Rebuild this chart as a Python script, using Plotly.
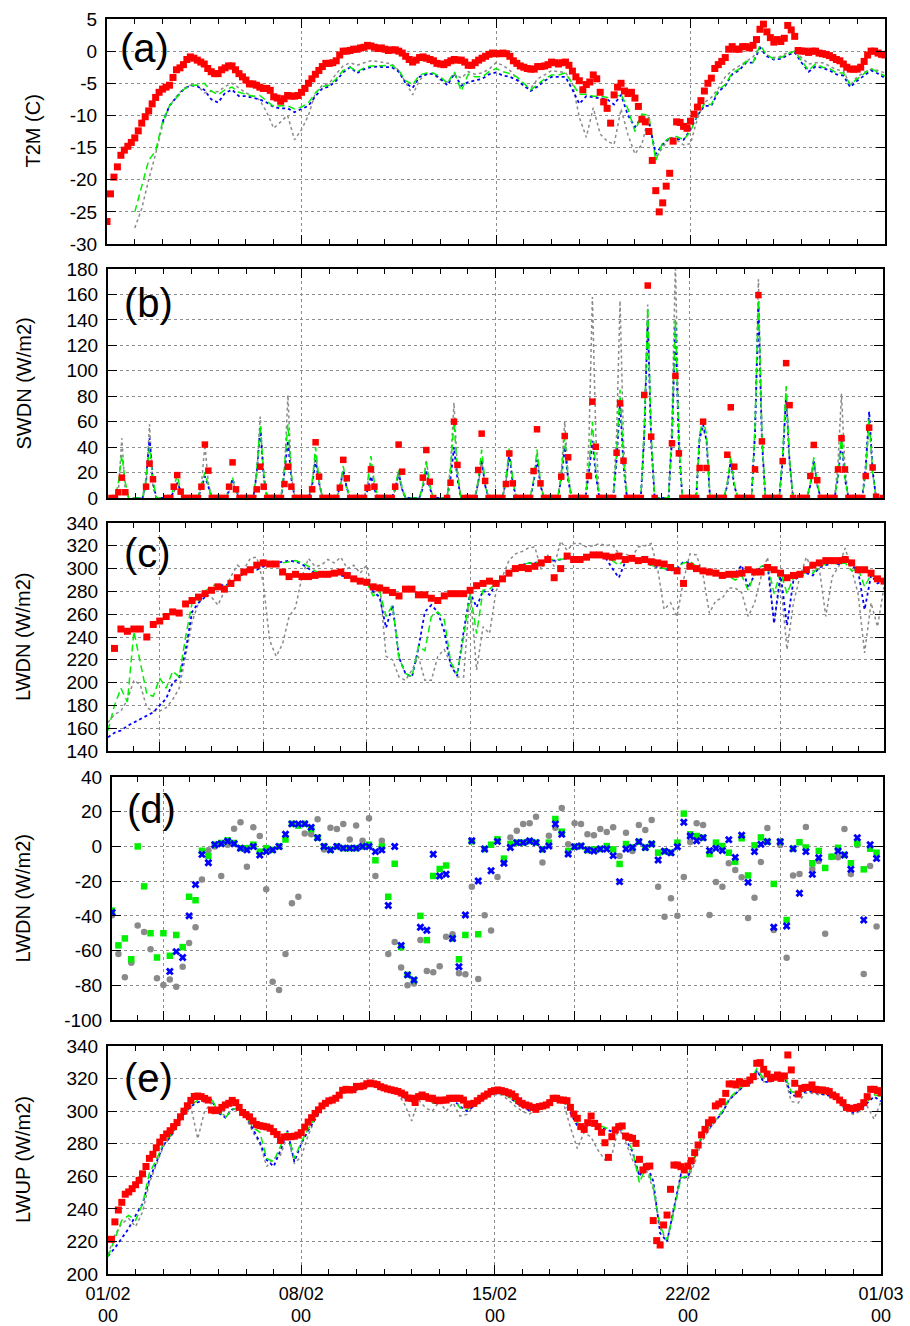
import plotly.graph_objects as go

# ======================= DATA =======================
# (a) T2M (C): observations every 3 h, model runs every 6 h (days since 01/02 00)
t2m_obs = [
    -26.5, -22.2, -19.6, -18, -16.2, -15.4, -14.8, -14.2, -13.5, -12.4,
    -11.2, -10.2, -9.3, -8.2, -7.2, -6.4, -5.9, -5.6, -5.3, -4.1,
    -2.9, -2.6, -2.1, -1.3, -0.9, -1.1, -1.4, -1.7, -2, -2.7,
    -3.2, -3.5, -3.5, -2.9, -2.6, -2.3, -2.3, -2.9, -3.5, -4,
    -4.5, -5.1, -5.1, -5.3, -5.6, -5.8, -5.8, -6.1, -7.1, -7.3,
    -7.8, -7.4, -6.9, -7, -7, -6.9, -6.4, -5.8, -5, -4.3,
    -3.6, -3, -2.4, -1.9, -1.9, -1.8, -1.5, -0.6, 0, 0,
    0.1, 0.3, 0.3, 0.5, 0.6, 0.9, 0.8, 0.6, 0.4, 0.5,
    0.3, 0.1, 0.2, 0.2, 0, -0.3, -0.8, -1.3, -1.7, -1.4,
    -1, -0.9, -1.1, -1.3, -1.5, -1.9, -2, -2.1, -1.8, -1.5,
    -1.3,
    -1.4, -1.4, -1.7, -2.2, -2.2, -1.8, -1.4, -1.1, -0.8, -0.5,
    -0.3, -0.4, -0.4, -0.3, -0.4, -0.8, -1.5, -1.9, -2.3, -2.5,
    -2.7, -2.8, -2.8, -2.4, -2.4, -2.3, -2.1, -1.7, -1.8, -2,
    -1.8, -1.7, -2.2, -3.1, -4, -4.6, -6, -5.2, -4.8, -3.7,
    -4.3, -6.4, -7.9, -8.9, -11.2, -6.8, -5.6, -5, -6.2, -6.6,
    -6.4, -7.3, -8.6, -10.6, -11, -12.5, -17, -21.7, -25, -23.6,
    -21, -19, -14, -11, -11.1, -11.7, -12, -10.9, -9.8, -8.7,
    -7.7, -6.2, -5, -4.2, -2.7, -2.1, -1.6, -1, 0.3, 0.7,
    0.3, 0.3, 0.7, 0.7, 0.5, 0.9, 1.8, 3.4, 4.2, 3,
    2.1, 1.4, 1.8, 1.5, 2, 4, 3.3, 2.3, 0.1, 0,
    0, -0.2, 0, 0, -0.3, -0.4, -0.5, -0.7, -1, -1.3,
    -1.5, -2, -2.5, -2.8, -2.8, -2.8, -2.5, -1.6, -0.6, 0,
    0, -0.3, -0.5, -0.6]
t2m_gray = [
    None, None, None, None, -27.5, -24.5, -20, -16, -11.5, -8.5,
    -7, -5.8, -5.3, -5.3, -6.5, -6.2, -6.3, -5.5, -5, -5.8,
    -6.5, -7, -7.6, -9.5, -12, -11, -10, -13.8, -12.2, -10,
    -6.5, -5.3, -5, -3.5, -2.3, -1.8, -2.2, -1.8, -1.5, -1.6,
    -1.8, -2, -3, -5, -6.8, -4.5, -3.5, -3.6, -4.5, -4.8,
    -3.5, -4.2, -3.2, -3.6, -3.4, -2.8, -1.8, -2.2, -3, -4.2,
    -5.5, -5.8, -4.3, -3.7, -3, -3.2, -3.3, -5, -10.3, -13.4,
    -8.8, -12.9, -14, -14.5, -9, -13, -16, -14.5, -10, -16.5,
    -15, -13.5, -13.8, -14.6, -14.4, -10.5, -8, -7.2, -5.8, -4,
    -3, -2.3, -1.5, -0.9, 0.7, -0.6, -1, -0.8, -0.2, -0.1,
    -1, -2, -1.8, -1.8, -2.3, -2.9, -3, -5.3, -4, -3.3,
    -2.8, -3, -3.4]
t2m_blue = [
    None, None, None, None, None, None, None, None, -11, -8.5,
    -7.2, -6, -5.3, -5.5, -6, -7.5, -8, -6.5, -6, -7,
    -7, -7.2, -7.5, -8, -8.7, -8.9, -8.9, -9.5, -9, -8.5,
    -7, -5.8, -5.5, -4.6, -3.3, -2.5, -3.4, -2.8, -2.5, -2.4,
    -2.5, -2.5, -3.2, -5, -5.7, -4, -3.6, -3.5, -4.3, -5.3,
    -3.5, -5.4, -4.8, -4.5, -4.3, -3.6, -3.3, -3.8, -4, -4.5,
    -5.3, -6.2, -5.5, -4.6, -4, -4, -4, -6, -8.2, -7,
    -7.2, -7.4, -7.5, -8.3, -6.8, -10, -11.8, -10.2, -11, -16,
    -14.5, -13.5, -13.6, -13.8, -12.2, -10, -8.5, -8.5, -6.3, -5.4,
    -3.6, -3, -1.8, -1.8, 0.5, -0.8, -1.3, -1.2, -0.6, -0.2,
    -1.8, -3.2, -2.4, -2.6, -3, -3.6, -3.8, -5.6, -4.6, -3.8,
    -3, -3.5, -4.2]
t2m_green = [
    None, None, None, None, -25, -21, -17, -15.5, -11, -8.5,
    -7.2, -6, -5.3, -5.3, -5, -6.2, -6.8, -6, -5.6, -6.4,
    -6.7, -7, -6.9, -7.8, -8.6, -8.5, -8.5, -9, -8.7, -8,
    -6.5, -5.5, -5.3, -4.3, -3, -2.5, -3.2, -2.6, -2.3, -2.3,
    -2.3, -2.2, -3, -4.6, -5.2, -3.7, -3.4, -3.4, -4, -5,
    -3.2, -6.2, -3.6, -4, -4, -3.2, -2.7, -3.2, -3.5, -4,
    -5, -6, -5.2, -4.3, -3.7, -3.7, -3.4, -5, -6.7, -6.7,
    -7, -7, -7.2, -7.2, -6.7, -9, -12.5, -9.8, -10, -17,
    -14.2, -13.5, -13.3, -13.8, -12.5, -9.8, -8.2, -8.3, -6, -5.2,
    -3.4, -2.8, -1.6, -1.8, 0.9, -0.6, -1.2, -1, -0.4, 0,
    -1.5, -3, -2, -2.5, -2.7, -3.4, -3.4, -5.2, -4.3, -3.5,
    -2.7, -3.3, -3.9]

# (b) SWDN (W/m2): observations every 3 h (8 per day)
swdn_obs = [
    None, 0, 0, 4.5, 16, 4.5, None, None,
    None, None, None, 8.9, 27, 14.7, None, None,
    None, 0, 0, 8.9, 18, 5, 0, 0,
    0, 0, 0, 8.9, 42, 21.5, 0, 0,
    0, 0, 0, 8.9, 28, 6.8, 0, 0,
    0, 0, 0, 6.8, 24.6, 8.9, 0, 0,
    0, 0, 0, 11, 24.6, 8.9, 0, 0,
    0, 0, 0, 6.8, 43.8, 16.8, 0, 0,
    0, 0, 0, 8.1, 30, 15.5, 0, 0,
    0, 0, 0, 8.1, 22.5, 8.9, 0, 0,
    0, 0, 0, 8.9, 42, 20.7, None, None,
    None, None, None, 16, 37.7, 12.8, 0, None,
    None, None, 0, 12, 60, 26, None, 0,
    0, 0, 0, 22, 50.6, 13.4, 0, 0,
    0, 0, 0, 11, 35, 11.5, 0, 0,
    0, 0, 0, 21.2, 54, 11.5, 0, 0,
    0, 0, 0, 16.8, 48.7, 32, 0, 0,
    0, 0, 0, 17.3, 75.7, 40.3, 0, 0,
    0, 0, 0, 35.6, 74.4, 29.3, 0, 0,
    0, 0, 0, 81, 167, 48.2, 0, None,
    None, None, None, 43, 96, 35.1, 0, 0,
    0, 0, 0, 23.6, 60, 23.6, 0, 0,
    0, 0, 0, 34, 71.3, 24.6, 0, 0,
    0, 0, 0, 22.5, 159.5, 44.5, 0, 0,
    0, 0, 0, 29, 106, 73, 0, None,
    0, 0, 0, 17.3, 41.7, 14, 0, 0,
    0, 0, 0, 22.5, 47, 22.5, 0, 0,
    0, 0, 0, 17.3, 55.3, 24, 1, None,
    0]
# model SWDN per day at 09, 12 and 15 h (zero at night)
sw_gray_09 = [5, 8, 4, 10, 5, 18, 20, 12, 8, 10, 6, 10, 25, 10, 12, 12, 20, 45, 50, 45, 60, 45, 10, 55, 28, 10, 28, 20]
sw_gray_12 = [47, 58, 12, 42, 14, 64, 81, 35, 20, 28, 18, 30, 75, 30, 34, 36, 60, 158, 155, 152, 185, 55, 28, 172, 85, 28, 82, 60]
sw_gray_15 = [5, 8, 5, 12, 5, 15, 18, 12, 7, 9, 6, 10, 22, 10, 12, 12, 18, 50, 45, 40, 55, 45, 10, 50, 30, 10, 25, 20]
sw_blue_09 = [None, 15, 5, 8, 6, 20, 20, 10, 8, 6, 7, 8, 15, 12, 13, 12, 15, 20, 30, 50, 45, 48, 10, 50, 30, 10, 16, 25]
sw_blue_12 = [None, 47, 12, 17, 15, 55, 45, 30, 22, 17, 20, 22, 40, 30, 35, 30, 40, 45, 75, 140, 135, 58, 30, 150, 80, 30, 45, 68]
sw_blue_15 = [None, 12, 6, 9, 6, 18, 15, 12, 8, 7, 7, 8, 15, 10, 12, 10, 14, 18, 25, 45, 40, 45, 10, 45, 28, 10, 15, 22]
sw_green_09 = [12, 15, 8, 10, 6, 22, 25, 12, 8, 12, 8, 10, 22, 14, 15, 14, 18, 25, 35, 55, 50, 50, 12, 55, 35, 12, 18, 22]
sw_green_12 = [34, 40, 18, 20, 16, 57, 58, 40, 25, 33, 22, 28, 60, 38, 40, 38, 48, 60, 85, 150, 140, 62, 33, 160, 88, 32, 50, 62]
sw_green_15 = [12, 14, 6, 10, 6, 20, 18, 14, 9, 12, 8, 10, 20, 12, 14, 12, 16, 22, 30, 50, 45, 50, 12, 50, 30, 12, 16, 20]

# (c) LWDN (W/m2): obs every 0.25 unit, model lines every 0.25 unit
lwdn_obs = [
    230, 247, 245, 247, 247, 240, 251, 254, 258, 262, 261, 269, 272, 275, 278, 281, 284, 282,
    287, 292, 297, 299, 303, 305, 304, 304, 297, 293, 295, 293, 293, 294, 295, 295, 296, 297,
    294, 291, 289, 288, 284, 283, 281, 279, 276, 282, 282, 277, 277, 274, 272, 276, 278,
    278, 278, 281, 285, 287, 289, 287, 291, 296, 300, 301, 300, 302, 305, 308, 292, 300, 311,
    308, 308, 310, 312, 312, 311, 310, 311, 308, 309, 307, 308, 306, 305, 304, 301, 298, 287,
    302, 300, 298, 297, 296, 294, 295, 295, 296, 299, 297, 297, 301, 299, 296, 292, 294, 295,
    299, 303, 305, 307, 307, 307, 308, 305, 299, 299, 296, 291, 289]
lwdn_gray = [
    165, 172, 175, 185, 202, 198, 178, 175, 175, 178, 185, 195, 223, 253, 270, 278, 275, 268,
    280, 293, 303, 299, 309, 310, 288, 237, 223, 234, 258, 266, 293, 309, 302, 303, 308, 305,
    310, 300, 303, 296, 303, 277, 287, 223, 220, 205, 202, 211, 223, 202, 202, 223, 229, 217,
    205, 205, 281, 211, 249, 243, 280, 293, 307, 313, 315, 318, 319, 299, 312, 302, 324, 316,
    322, 322, 319, 320, 322, 320, 321, 313, 313, 310, 319, 320, 322, 300, 264, 270, 258, 290,
    313, 312, 295, 261, 272, 274, 283, 283, 279, 258, 270, 293, 310, 252, 290, 229, 270, 293,
    310, 298, 300, 258, 293, 302, 318, 299, 278, 226, 270, 249, 284]
lwdn_blue = [
    152, 156, 158, 162, 165, 168, 171, 174, 180, 186, 200, 204, 228, 262, 270, 275, 283, 286,
    285, 287, 291, 296, 300, 299, 302, 303, 305, 306, 307, 306, 304, 300, 296, 294, 294, 295,
    294, 293, 291, 289, 288, 280, 275, 248, 268, 222, 208, 205, 230, 262, 268, 262, 245, 215,
    206, 245, 279, 266, 281, 277, 287, 291, 297, 301, 303, 305, 305, 306, 307, 307, 308, 309,
    309, 310, 310, 311, 311, 309, 300, 292, 306, 309, 308, 306, 303, 301, 300, 298, 300, 306,
    305, 301, 297, 296, 295, 293, 293, 296, 303, 283, 295, 302, 303, 252, 296, 250, 290, 293,
    296, 294, 301, 303, 305, 304, 306, 303, 298, 264, 294, 287, 290]
lwdn_green = [
    158, 180, 195, 183, 245, 218, 190, 188, 204, 195, 210, 205, 240, 270, 272, 280, 285, 286,
    284, 287, 293, 297, 299, 302, 303, 303, 304, 305, 306, 307, 305, 302, 298, 296, 296, 295,
    295, 293, 291, 289, 288, 276, 280, 258, 268, 222, 208, 205, 232, 228, 258, 262, 255, 218,
    208, 240, 279, 243, 281, 282, 287, 291, 297, 301, 303, 305, 305, 306, 308, 308, 308, 309,
    309, 310, 310, 311, 311, 310, 307, 303, 309, 309, 308, 306, 303, 301, 300, 299, 301, 305,
    306, 302, 298, 296, 295, 294, 293, 290, 294, 281, 296, 302, 304, 278, 297, 278, 292, 294,
    297, 296, 302, 304, 305, 304, 305, 298, 300, 284, 295, 289, 290]

# (d) LWDN model minus obs (W/m2), every 0.25 unit
dlw_gray = [
    -39.7, -62, -75.4, -67, -45.5, -49.3, -59.3, -76, -79.8, -76.6,
    -80.8, -69.3, -55.6, -46.6, -19, -2.2, 0, -17, 1, 10.2,
    13.9, -11.7, 11, 6, -24.7, -78, -82.7, -62, -32.8, -29,
    7.5, 7, 15.6, -1.7, 10.8, 10, 12.9, 4, 12, 3.3,
    16.2, -17, 3.3, -62, -55, -69.7, -80, -79, -53.9, -71.8,
    -72.5, -69, -52, -50.6, -73.1, -73.7, -23.2, -76.4, -39.7, -48.5,
    -17.6, -8.8, 5.2, 9.1, 12.9, 13.3, 17.1, -9.2, 6.2, 10.8,
    22.1, 1.2, 13.3, 12.9, 7, 6.4, 10, 8.3, 11, -5.5,
    7.9, -2.6, 12.3, 9.5, 15.2, -23.2, -40.5, -29.9, -39.9, -17.6,
    2.6, 13.3, 12.3, -39.5, -20.5, -23.2, -9.7, -13.6, -17.8, -41.2,
    -29.5, -9, 10.6, -48.2, 0.8, -64.1, -16.8, -15.9, 11.2, -13,
    -8.4, -50.3, -5.9, -6.3, 10, -15.9, 0.8, -73.5, -11.3, -46.2]
dlw_blue = [
    -38, None, None, None, None, None, None, None, None, -72,
    -60.6, -64, -40, -22, -4.6, -9.4, 1, 1.5, 3, 1.5,
    -1, -2, 0, -5, -3, -2, 0, 7, 13, 13,
    13, 11, 5, 0, -2, 0, -1, -1, -1, 0,
    0, -3, -2, -34, 0, -57, -74, -77, -46.6, -48.3,
    -4.5, -17, -16, -53, -69.3, -39.5, 3.3, -19.9, -1.5, -14,
    2.9, -9.7, -0.6, 2.2, 2.2, 3.1, 2.2, -1.7, 0.2, 12.9,
    7, -4.4, -0.2, 0.2, -2.1, -2.6, -1.5, -1.5, -5.3, -20.3,
    -1.5, -0.6, 2.7, -0.6, 1.4, -7.8, -2.8, -3.6, -0.2, 13.9,
    6, 3.3, 5, -2.4, -1.1, -2.4, 3.9, -6.3, 6.4, -20.7,
    -3, 1.2, 2.7, -46.6, 2.7, -45.8, -1.3, -27, -3, -16.1,
    -6.5, None, None, -2.6, -4.9, -13.2, 5, -42.4, 1, -6.9]
dlw_green = [
    -37, -57, -53, -65, 0, -23, -50, -64, -50, -63,
    -51, -58, -29, -31, -2.5, -5.5, 1, 2, 3.5, 2,
    -1, -1, 1, -3, -1, -2, 0, 4, 13, 12,
    13, 10, 5, 0, -2, 0, -1, -1, -1, 0,
    1, -8, 0, -29, -10, -58, -74, -77, -40, -54,
    -17, -13, -11, -53, -65, -51, 3, -50.6, -1.5, 1,
    4.1, -7, 1.4, 2.2, 2.2, 3.1, 2.2, -1.7, 2.2, 15.8,
    8.5, -2.6, -0.2, 0.2, -2.1, -1.7, -1.5, 0.2, -1.7, -10.1,
    1.4, -0.6, 2.7, -0.6, 1.4, -3.6, -2.8, -3.6, 2.2, 18.9,
    7, 6, 5, -4.4, 2.2, 0.2, -3.6, -8.8, 4.7, -16.7,
    0.6, 5.2, 2.7, -21.6, 2.7, -42.4, -1.3, 2.4, -0.6, -9.7,
    -2.6, -12.4, -5.9, -0.8, -4.9, -9.7, 1.8, -13.2, -1.3, -3.6]

# (e) LWUP (W/m2): obs every 3 h, model runs every 6 h
lwup_obs = [
    None, 221.3, 232, 239.3, 244, 249, 250.4, 252.4, 254.8, 257.5,
    261.5, 266, 271, 273.5, 277.5, 281, 283.8, 286, 288, 290.5,
    293, 296.5, 300, 303.3, 306.6, 309, 309.3, 308.9, 307.8, 306.8,
    300.7, 300.3, 300.7, 302.3, 303.8, 304.8, 306.6, 305.2, 302.3, 299.2,
    297.8, 296.5, 294, 291.8, 291.1, 290.7, 290.3, 289.5, 287.4, 285.7,
    282, 284.1, 284.3, 284.3, 284.6, 285.3, 286.8, 290.2, 293.3, 296,
    298.6, 300.8, 303.2, 304.8, 306.3, 306.8, 307.9, 309.8, 312.8, 313.4,
    313, 313.2, 315.2, 315, 315.5, 316.8, 317.3, 316.8, 316.3, 315,
    314.3, 313.6, 313.1, 312.6, 312.1, 311.1, 310, 308, 307.9, 305.3,
    308.9, 309.9, 308.9, 307.9, 307.9, 306.8, 306.4, 306.8, 306.8, 307.9,
    307.9,
    307.9, 307.9, 306.8, 303.8, 304.4, 304.8, 306.4, 307.9, 309.3, 310.5,
    312, 312.6, 313, 312.6, 312, 311.3, 310.5, 308.9, 306.4, 304.8,
    303.8, 303.2, 302.3, 301.1, 302.8, 303.2, 303.8, 305.2, 307.9, 307.9,
    306.8, 306.8, 306.4, 302.3, 298.2, 295.6, 290.5, 288.8, 292.9, 297,
    292.5, 290.5, 287, 280.6, 271.6, 284.3, 288.4, 290.5, 290.9, 284.7,
    283.9, 283.3, 280.2, 270.4, 263.9, 265.9, 266.3, 232.8, 220.5, 217.8,
    230.1, 236.2, 252, 266.9, 266.9, 265.9, 263.9, 266.3, 269.6, 274.5,
    279.2, 285.4, 288.8, 292.9, 294.6, 303.2, 304.4, 305.8, 310.9, 316.7,
    316.7, 316.1, 318.1, 317.1, 317.1, 319.1, 321.2, 329.4, 329.8, 325.7,
    322.8, 320.1, 320.8, 322.2, 320.1, 321.6, 334.5, 325.3, 317.1, 310.5,
    314, 314.6, 314.6, 316.1, 313.4, 313, 313, 312.6, 312, 309.9,
    308.9, 306.8, 305.2, 302.3, 301.7, 301.7, 302.3, 302.8, 305.2, 308.9,
    313.4, 313.4, 312.6, 311.3]
lwup_gray = [
    212, 224, 231, 234, 229, 238, 256, 267, 278, 284,
    291, 298, 303, 283, 300, 305, 300, 297, 301, 302,
    296, 287, 280, 266, 271, 273, 285, 268, 272, 285,
    295, 301, 308, 309, 312, 313, 314, 314, 316, 315.5,
    315, 313, 311, 304, 294, 307, 302, 300, 306, 300,
    305, 297, 298, 303, 306, 308.5, 310, 310, 307, 303,
    300, 298, 301, 303, 306, 306.5, 305, 290, 277, 287,
    284, 276, 270, 273, 290, 281, 270, 262, 264, 252,
    228, 220, 240, 260, 258, 268, 281, 288, 294, 299,
    307, 311, 315, 317, 325, 318, 318, 320, 321, 306,
    305, 311, 311, 310, 310, 309, 305, 300, 298, 300,
    303, 295, 306]
lwup_blue = [
    211, 216, 222, 228, 236, 243, 258, 268, 279, 284,
    291, 298, 303, 305.5, 306, 307, 299, 296, 301, 302,
    297, 289, 281, 270, 266, 276, 288, 269, 280, 288,
    295, 302, 306, 309, 312, 312, 313, 314, 316, 315.5,
    314, 313, 311, 308, 306, 310, 310, 305, 305, 306,
    307, 303, 300, 303, 306.5, 309.5, 311, 311, 309, 305.5,
    302.5, 300.5, 301, 303.5, 306.5, 308, 306.5, 299, 291, 288,
    293, 290, 289, 287.5, 290, 283, 275, 260, 268, 257,
    225, 220, 240, 261, 259, 271, 284, 289, 294, 299,
    307, 311, 315, 317, 325, 318, 318, 320, 321.5, 310,
    309, 312, 312, 311, 310, 309, 306, 302, 299, 301,
    305, 309, 306]
lwup_green = [
    210.6, 222, 233, 236, 233, 243, 262, 270, 280, 285,
    292, 298, 304, 306.5, 307, 307.5, 300, 296, 301, 302,
    297, 290, 287, 271, 269, 278, 288, 271, 281, 289,
    296, 302, 307, 309, 313, 313, 314, 315, 316.5, 316,
    315, 313, 312, 309, 307, 311, 311, 305, 306, 307,
    308, 302, 301, 304, 307.5, 310, 311, 311, 309, 306,
    303.5, 302, 301.5, 304, 307, 308, 307, 302, 293, 290,
    294, 291.5, 290, 288, 292, 284, 276, 256, 266, 254,
    229, 221, 238, 259, 260, 272, 285, 290, 295, 300,
    308, 312, 316, 318, 326, 320, 319.5, 321, 322.5, 312,
    311, 313, 313, 311.5, 311, 310, 307, 303, 300, 302,
    306, 310, 309]

date_ticks = [0, 7, 14, 21, 28]
date_labels = ["01/02", "08/02", "15/02", "22/02", "01/03"]
hour_labels = ["00", "00", "00", "00", "00"]
panel_titles = ["T2M (C)", "SWDN (W/m2)", "LWDN (W/m2)", "LWDN (W/m2)", "LWUP (W/m2)"]
panel_letters = ["(a)", "(b)", "(c)", "(d)", "(e)"]

# ======================= STYLE =======================
FONT = "Liberation Sans, Arial, Helvetica, sans-serif"
RED = "#ff0000"
GRAY = "#8a8a8a"
BLUE = "#0000ff"
GREEN = "#00f000"
W, H = 910, 1326

# panel boxes in pixels: (left, right, top, bottom)
boxes = [(107, 885, 19, 244), (108, 883, 269, 498), (108, 884, 523, 751),
         (112, 883, 777, 1020), (108, 881, 1046, 1274)]

t3 = [k / 8 for k in range(len(t2m_obs))]
t6 = [j / 4 for j in range(len(t2m_gray))]
u_obs = [0.25 * (i + 1) for i in range(len(lwdn_obs))]
u_lin = [0.25 * i for i in range(len(lwdn_gray))]
u_d = [0.25 * i for i in range(len(dlw_gray))]


def sw_series(m09, m12, m15):
    ys = []
    for d in range(len(m12)):
        if m12[d] is None:
            ys += [None] * 8
        else:
            ys += [0, 0, 0, m09[d], m12[d], m15[d], 0, 0]
    ys.append(0)
    return ys


fig = go.Figure()


def line(x, y, color, dash, width, ax):
    fig.add_trace(go.Scatter(x=x, y=y, mode="lines", xaxis="x" + ax, yaxis="y" + ax,
                             line=dict(color=color, dash=dash, width=width),
                             hoverinfo="skip", showlegend=False))


def pts(x, y, color, symbol, size, ax):
    fig.add_trace(go.Scatter(x=x, y=y, mode="markers", xaxis="x" + ax, yaxis="y" + ax,
                             marker=dict(color=color, symbol=symbol, size=size, line=dict(width=0)),
                             hoverinfo="skip", showlegend=False))


GD, BD, ND = "3px,3px", "3px,3px", "7px,4px"

# (a)
line(t6, t2m_gray, GRAY, GD, 1.5, "1")
line(t6, t2m_blue, BLUE, BD, 1.8, "1")
line(t6, t2m_green, GREEN, ND, 1.5, "1")
pts(t3, t2m_obs, RED, "square", 7, "1")
# (b)
tb = [k / 8 for k in range(len(swdn_obs))]
line(tb, sw_series(sw_gray_09, sw_gray_12, sw_gray_15), GRAY, GD, 1.5, "2")
line(tb, sw_series(sw_blue_09, sw_blue_12, sw_blue_15), BLUE, BD, 1.8, "2")
line(tb, sw_series(sw_green_09, sw_green_12, sw_green_15), GREEN, ND, 1.5, "2")
pts(tb, swdn_obs, RED, "square", 6.5, "2")
# (c)
line(u_lin, lwdn_gray, GRAY, GD, 1.5, "3")
line(u_lin, lwdn_blue, BLUE, BD, 1.8, "3")
line(u_lin, lwdn_green, GREEN, ND, 1.5, "3")
pts(u_obs, lwdn_obs, RED, "square", 7, "3")
# (d)
pts(u_d, dlw_gray, GRAY, "circle", 6.5, "4")
pts(u_d, dlw_green, GREEN, "square", 6.5, "4")
pts(u_d, dlw_blue, BLUE, "x", 7, "4")
# (e)
line(t6, lwup_gray, GRAY, GD, 1.5, "5")
line(t6, lwup_blue, BLUE, BD, 1.8, "5")
line(t6, lwup_green, GREEN, ND, 1.5, "5")
pts(t3, lwup_obs, RED, "square", 7, "5")

yranges = [(-30, 5, 5), (0, 180, 20), (140, 340, 20), (-100, 40, 20), (200, 340, 20)]

layout = dict(width=W, height=H, margin=dict(l=0, r=0, t=0, b=0, autoexpand=False),
              paper_bgcolor="white", plot_bgcolor="white", showlegend=False,
              font=dict(family=FONT, size=19, color="black"))

annotations = []
for i, (l, r, t, b) in enumerate(boxes):
    n = str(i + 1)
    key = "" if i == 0 else n
    xdom = [l / W, r / W]
    ydom = [1 - b / H, 1 - t / H]
    common = dict(showline=True, linewidth=2, linecolor="black", mirror="allticks",
                  ticks="inside", tickcolor="black", tickwidth=1, zeroline=False,
                  automargin=False,
                  showgrid=True, gridcolor="#8c8c8c", griddash="dot", gridwidth=1)
    if i in (2, 3):
        xa = dict(domain=xdom, anchor="y" + key, range=[0, 30], tickmode="linear",
                  tick0=2, dtick=4, ticklen=9, showticklabels=False,
                  minor=dict(ticks="inside", ticklen=5, dtick=1, tick0=0,
                             tickcolor="black", showgrid=False), **common)
    else:
        xa = dict(domain=xdom, anchor="y" + key, range=[0, 28], tickmode="array",
                  tickvals=date_ticks, ticktext=date_labels, ticklen=9,
                  showticklabels=(i == 4), ticklabelstandoff=2,
                  tickfont=dict(size=18),
                  minor=dict(ticks="inside", ticklen=5, dtick=1, tick0=0,
                             tickcolor="black", showgrid=False), **common)
    lo, hi, st = yranges[i]
    vals = list(range(lo, hi + 1, st))
    ya = dict(domain=ydom, anchor="x" + key, range=[lo, hi], tickmode="array",
              tickvals=vals, ticktext=[str(v) for v in vals], ticklen=9,
              ticklabelstandoff=4, tickfont=dict(size=19), **common)
    layout["xaxis" + key] = xa
    layout["yaxis" + key] = ya
    # y-axis title
    annotations.append(dict(text=panel_titles[i], x=[33, 23, 23, 22, 23][i] / W,
                            y=1 - (t + b) / 2 / H, xref="paper", yref="paper",
                            textangle=-90, showarrow=False, xanchor="center",
                            yanchor="middle", font=dict(size=20)))
    # panel letter
    lx = [118, 122, 122, 125, 122][i]
    ly = [48, 303, 553, 809, 1078][i]
    annotations.append(dict(text=panel_letters[i], x=lx / W, y=1 - ly / H,
                            xref="paper", yref="paper", showarrow=False,
                            xanchor="left", yanchor="middle", font=dict(size=40)))

for tv, hl in zip(date_ticks, hour_labels):
    annotations.append(dict(text=hl, x=tv, xref="x5", y=1 - 1316 / H, yref="paper",
                            showarrow=False, xanchor="center", yanchor="middle",
                            font=dict(size=18)))

layout["annotations"] = annotations
fig.update_layout(**layout)
# remove the browser's default 8px page margin so the figure sits at the window origin
fig.write_html("out.html", config={"displayModeBar": False},
               post_script="document.body.style.margin='0px';")
